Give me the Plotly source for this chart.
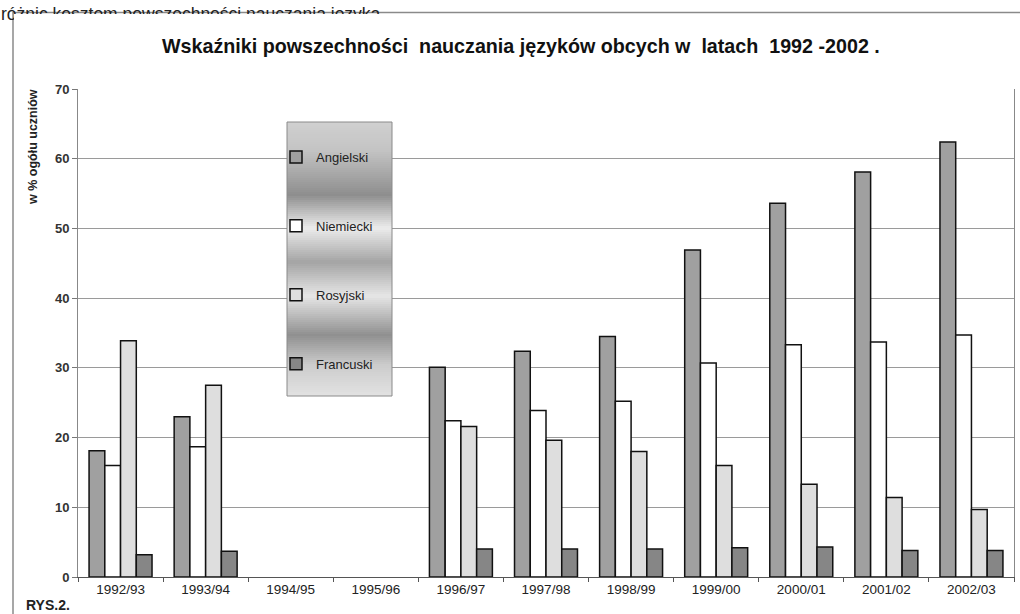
import plotly.graph_objects as go

years = ["1992/93", "1993/94", "1994/95", "1995/96", "1996/97", "1997/98",
         "1998/99", "1999/00", "2000/01", "2001/02", "2002/03"]
angielski = [18.1, 23.0, None, None, 30.1, 32.4, 34.5, 46.9, 53.6, 58.1, 62.4]
niemiecki = [16.0, 18.7, None, None, 22.4, 23.9, 25.2, 30.7, 33.3, 33.7, 34.7]
rosyjski = [33.9, 27.5, None, None, 21.6, 19.6, 18.0, 16.0, 13.3, 11.4, 9.7]
francuski = [3.2, 3.7, None, None, 4.0, 4.0, 4.0, 4.2, 4.3, 3.8, 3.8]

series_names = ["Angielski", "Niemiecki", "Rosyjski", "Francuski"]
series_vals = [angielski, niemiecki, rosyjski, francuski]
series_cols = ["#a0a0a0", "#ffffff", "#dedede", "#868686"]

W, H = 1020, 614
ML, MR, MT, MB = 78, 6, 89, 37
PW, PH = W - ML - MR, H - MT - MB


def px(x):
    return (x - ML) / PW


def py(y):
    return (H - MB - y) / PH


fig = go.Figure()
for i, (nm, vals, col) in enumerate(zip(series_names, series_vals, series_cols)):
    fig.add_trace(go.Bar(
        x=years, y=vals, name=nm, legendgroup=nm,
        marker=dict(color=col, line=dict(color="#111111", width=1.5)),
    ))

shapes = []
# gradient legend background
stops = [(122, 0xd0), (150, 0xc4), (195, 0x8e), (228, 0xec), (262, 0xa4),
         (296, 0xe6), (335, 0x90), (365, 0xcc), (396, 0xe2)]


def grey_at(y):
    for (y0, g0), (y1, g1) in zip(stops[:-1], stops[1:]):
        if y0 <= y <= y1:
            t = (y - y0) / (y1 - y0)
            return int(round(g0 + (g1 - g0) * t))
    return stops[-1][1]


bx0, bx1, by0, by1 = 287, 392, 122, 396
y = by0
while y < by1:
    g = grey_at(y + 1)
    c = "#%02x%02x%02x" % (g, g, g)
    shapes.append(dict(type="rect", xref="paper", yref="paper",
                       x0=px(bx0), x1=px(bx1), y0=py(min(y + 2.5, by1)), y1=py(y),
                       fillcolor=c, line=dict(width=0), layer="above"))
    y += 2
shapes.append(dict(type="rect", xref="paper", yref="paper",
                   x0=px(bx0), x1=px(bx1), y0=py(by1), y1=py(by0),
                   fillcolor="rgba(0,0,0,0)", line=dict(color="#8a8a8a", width=1), layer="above"))
# outer frame
shapes.append(dict(type="line", xref="paper", yref="paper",
                   x0=px(13), x1=px(13), y0=py(12), y1=py(614),
                   line=dict(color="#8a8a8a", width=1.5), layer="above"))
shapes.append(dict(type="line", xref="paper", yref="paper",
                   x0=px(13), x1=px(1020), y0=py(12.5), y1=py(12.5),
                   line=dict(color="#8a8a8a", width=1.5), layer="above"))

annotations = [
    dict(text="różnic kosztem powszechności nauczania języka", xref="paper", yref="paper",
         x=px(-1), y=py(14), xanchor="left", yanchor="middle", showarrow=False,
         font=dict(family="Liberation Sans, Arial", size=17.5, color="#222222")),
    dict(text="\u00a0", xref="paper", yref="paper", x=px(14), y=py(13.5),
         xanchor="left", yanchor="top", showarrow=False, width=1010, height=18,
         bgcolor="#ffffff", borderpad=0, borderwidth=0, font=dict(size=10)),
    dict(text="Wskaźniki powszechności\u00a0 nauczania języków obcych w\u00a0 latach\u00a0 1992 -2002 .",
         xref="paper", yref="paper", x=px(521), y=py(46), xanchor="center", yanchor="middle",
         showarrow=False,
         font=dict(family="Liberation Sans, Arial", size=19.7, color="#111111", weight="bold")),
    dict(text="w % ogółu uczniów", xref="paper", yref="paper", x=px(33), y=py(147),
         xanchor="center", yanchor="middle", textangle=-90, showarrow=False,
         font=dict(family="Liberation Sans, Arial", size=12.5, color="#222222", weight="bold")),
    dict(text="RYS.2.", xref="paper", yref="paper", x=px(24), y=py(605),
         xanchor="left", yanchor="middle", showarrow=False,
         font=dict(family="Liberation Sans, Arial", size=14, color="#222222", weight="bold")),
]

fig.update_layout(
    width=W, height=H,
    margin=dict(l=ML, r=MR, t=MT, b=MB, pad=0),
    paper_bgcolor="#ffffff", plot_bgcolor="#ffffff",
    barmode="group", bargap=0.26, bargroupgap=0,
    shapes=shapes, annotations=annotations,
    showlegend=True,
    legend=dict(x=px(276), y=py(142), xanchor="left", yanchor="top",
                bgcolor="rgba(0,0,0,0)", borderwidth=0, tracegroupgap=49,
                itemwidth=30, itemclick=False,
                font=dict(family="Liberation Sans, Arial", size=13, color="#222222")),
    font=dict(family="Liberation Sans, Arial"),
)
fig.update_xaxes(
    type="category", categoryorder="array", categoryarray=years,
    tickson="boundaries", ticks="outside", ticklen=4, tickcolor="#555555",
    showline=True, linecolor="#555555", linewidth=1, showgrid=False,
    tickfont=dict(family="Liberation Sans, Arial", size=13.5, color="#222222"),
)
fig.update_yaxes(
    range=[0, 70], dtick=10, showgrid=True, gridcolor="#9a9a9a", gridwidth=1,
    ticks="outside", ticklen=5, tickcolor="#777777",
    showline=True, linecolor="#888888", linewidth=1, mirror=True, zeroline=False,
    tickfont=dict(family="Liberation Sans, Arial", size=13, color="#333333", weight="bold"),
)

fig.write_html("out.html", config={"displayModeBar": False},
               post_script="document.body.style.margin='0';document.body.style.overflow='hidden';")
